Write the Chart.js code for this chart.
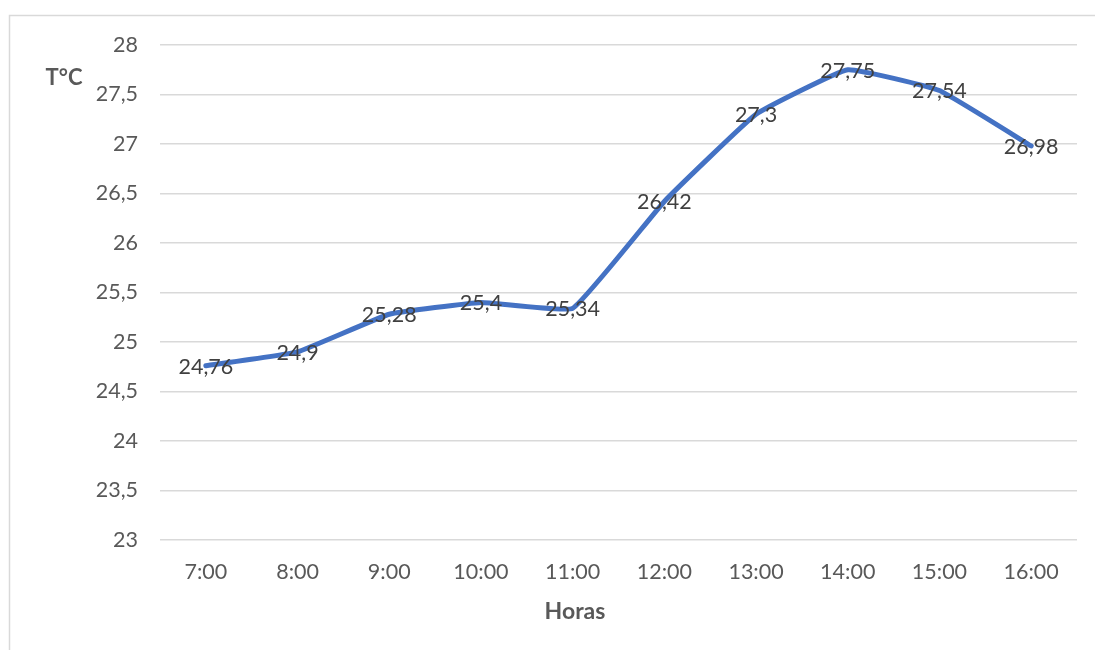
<!DOCTYPE html>
<html>
<head>
<meta charset="utf-8">
<script src="https://cdn.jsdelivr.net/npm/chart.js@4/dist/chart.umd.min.js"></script>
<style>
  html, body { margin: 0; padding: 0; background: #fff; }
  #wrap { position: relative; width: 1095px; height: 650px; }
</style>
</head>
<body>
<div id="wrap"><canvas id="chart" width="1095" height="650"></canvas></div>
<script>
const horas = ["7:00", "8:00", "9:00", "10:00", "11:00", "12:00", "13:00", "14:00", "15:00", "16:00"];
const temperaturas = [24.76, 24.9, 25.28, 25.4, 25.34, 26.42, 27.3, 27.75, 27.54, 26.98];
const yMin = 23, yMax = 28, yStep = 0.5;

const fontFamily = "Lato, 'Open Sans', sans-serif";
const fmt = v => String(v).replace(".", ",");

// frame, axis titles and value labels
const decor = {
  id: "decor",
  beforeDraw(chart) {
    const ctx = chart.ctx;
    ctx.save();
    ctx.strokeStyle = "#d9d9d9";
    ctx.lineWidth = 1.5;
    ctx.beginPath();
    ctx.moveTo(9.5, 700);
    ctx.lineTo(9.5, 15.5);
    ctx.lineTo(1100, 15.5);
    ctx.stroke();
    ctx.restore();
  },
  afterDatasetsDraw(chart) {
    const ctx = chart.ctx;
    ctx.save();
    ctx.fillStyle = "#595959";
    ctx.textAlign = "center";
    ctx.textBaseline = "middle";
    ctx.font = "bold 22px " + fontFamily;
    ctx.fillText("T°C", 64, 78);
    ctx.font = "bold 23px " + fontFamily;
    ctx.fillText("Horas", 575, 612);

    ctx.fillStyle = "#404040";
    ctx.font = "21.5px " + fontFamily;
    const meta = chart.getDatasetMeta(0);
    meta.data.forEach((pt, i) => {
      ctx.fillText(fmt(temperaturas[i]), pt.x, pt.y + 1);
    });
    ctx.restore();
  }
};

new Chart(document.getElementById("chart").getContext("2d"), {
  type: "line",
  data: {
    labels: horas,
    datasets: [{
      label: "T°C",
      data: temperaturas,
      borderColor: "#4472C4",
      borderWidth: 5,
      pointRadius: 0,
      tension: 0.1,
      borderCapStyle: "round",
      borderJoinStyle: "round",
      fill: false
    }]
  },
  options: {
    responsive: false,
    animation: false,
    devicePixelRatio: 1,
    layout: { padding: { top: 45, right: 18, left: 0, bottom: 0 } },
    plugins: {
      legend: { display: false },
      tooltip: { enabled: false }
    },
    scales: {
      x: {
        offset: true,
        grid: { display: false, drawTicks: false },
        border: { display: false },
        ticks: { color: "#595959", font: { family: fontFamily, size: 21.5 }, padding: 19, maxRotation: 0 },
        afterFit(scale) { scale.height = 110; }
      },
      y: {
        min: yMin,
        max: yMax,
        grid: { color: "#d9d9d9", lineWidth: 1.5, drawTicks: false },
        border: { display: false },
        ticks: {
          stepSize: yStep,
          color: "#595959",
          font: { family: fontFamily, size: 21.5 },
          padding: 22,
          callback: v => fmt(v)
        },
        afterFit(scale) { scale.width = 160; }
      }
    }
  },
  plugins: [decor]
});
</script>
</body>
</html>
